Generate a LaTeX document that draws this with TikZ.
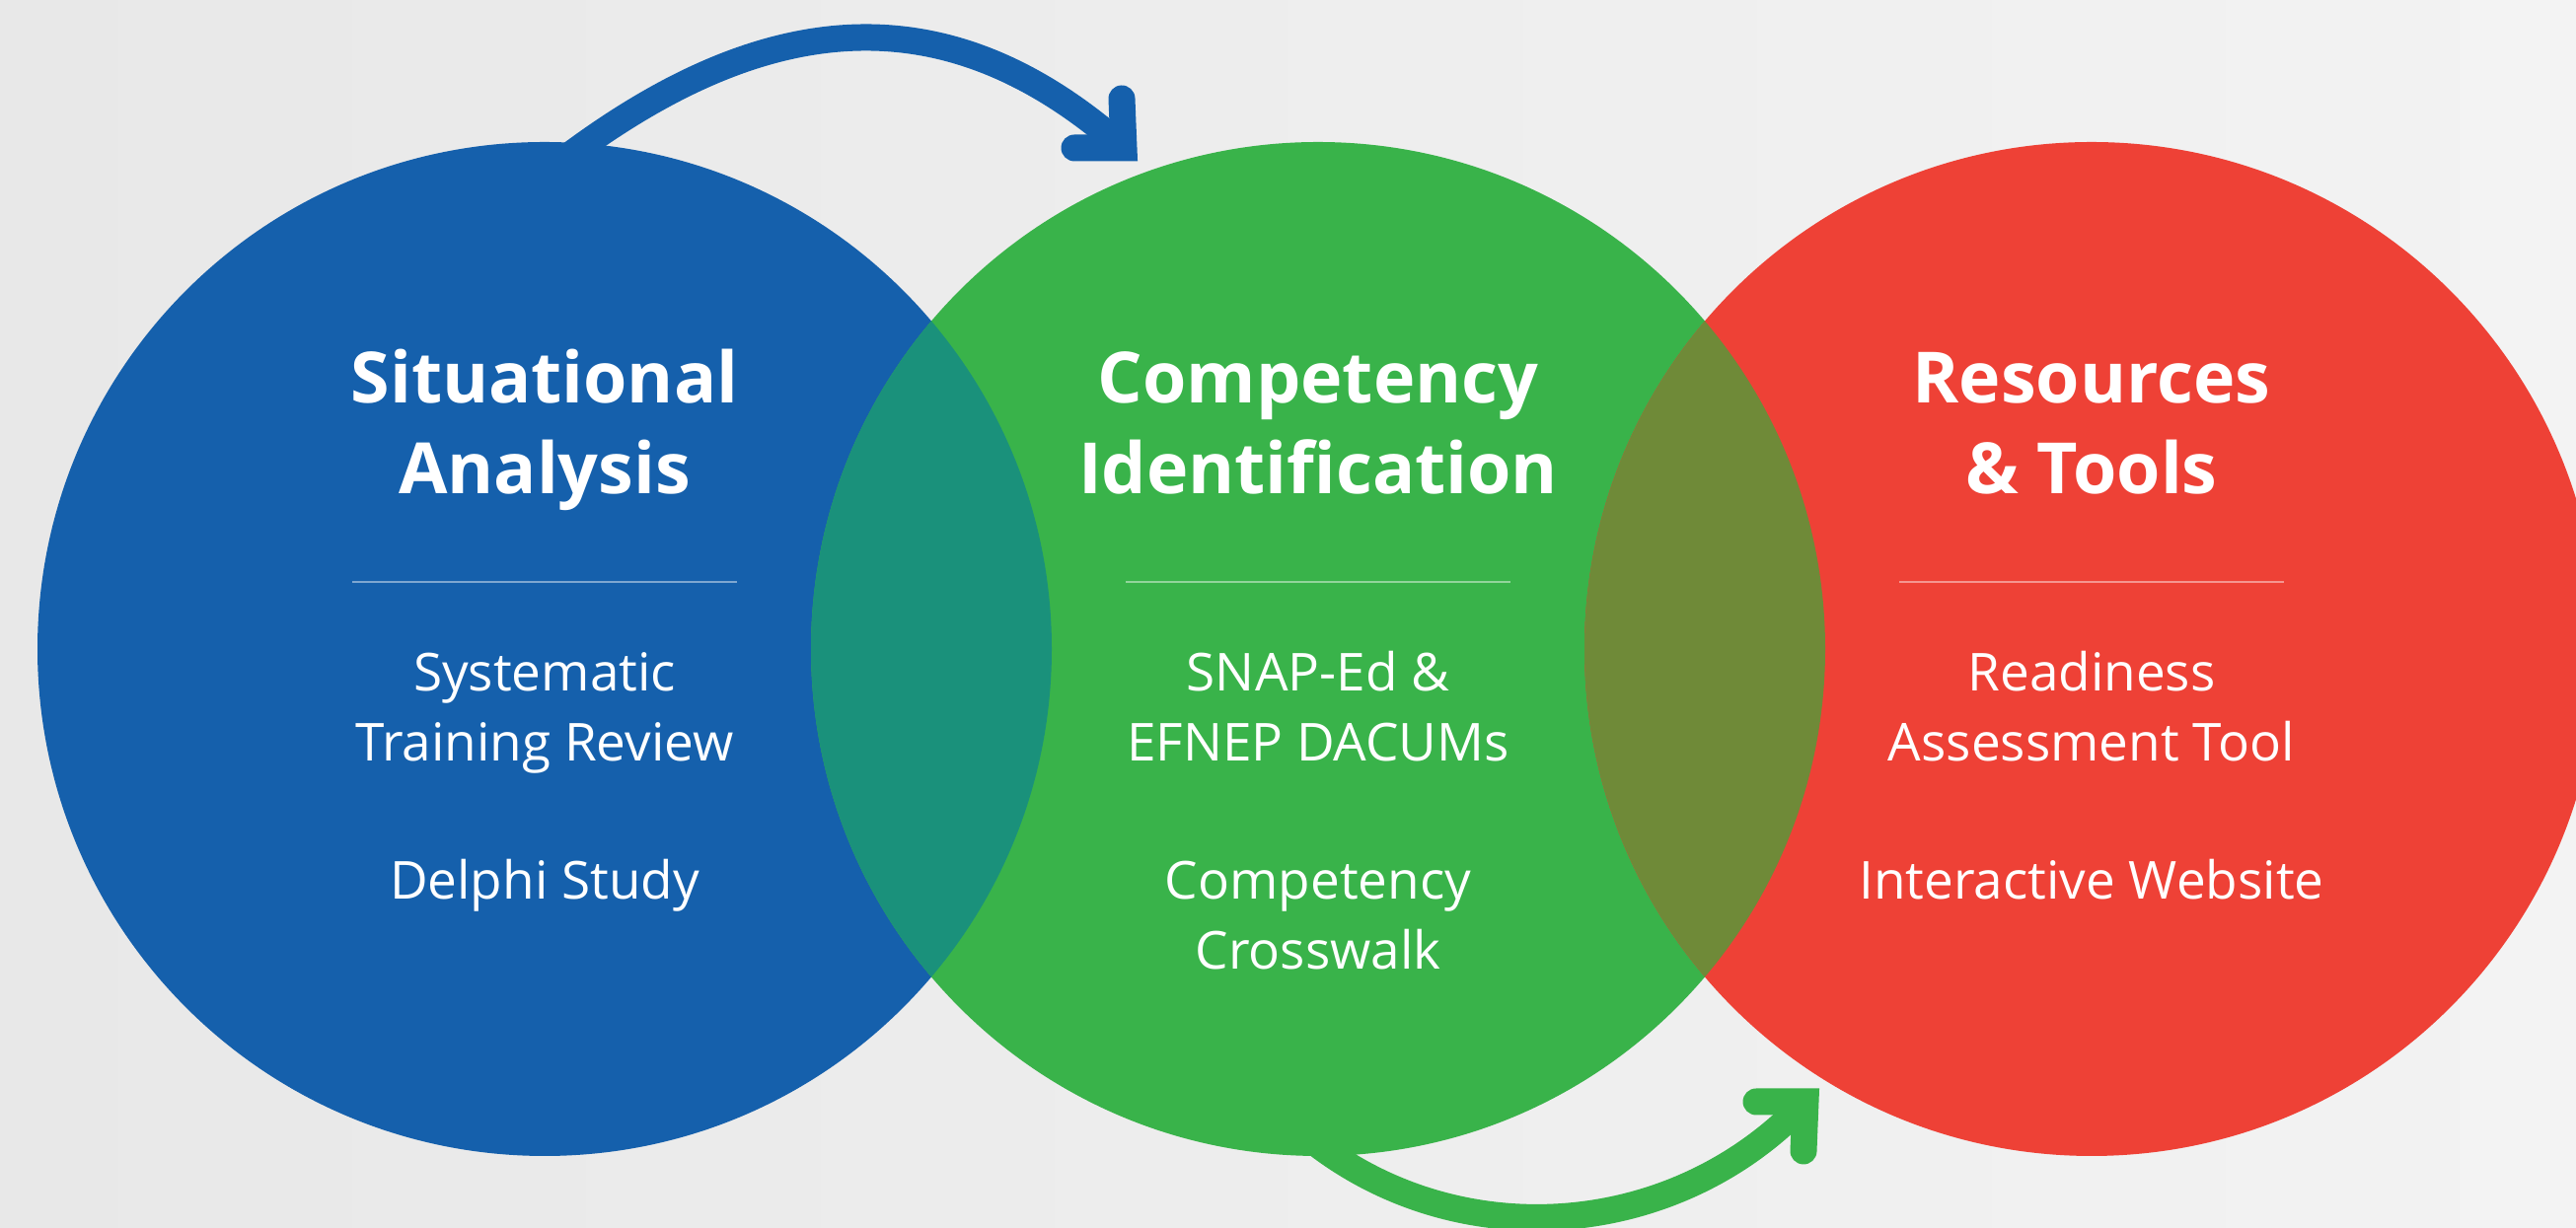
\documentclass[tikz,border=0pt]{standalone}
\usepackage{fontspec}
\setmainfont{Open Sans}
\usetikzlibrary{calc}

\pgfdeclarelayer{back}
\pgfsetlayers{back,main}

\definecolor{sablue}{HTML}{1560AC}
\definecolor{cigreen}{HTML}{39B34A}
\definecolor{rtred}{HTML}{EE4136}
\definecolor{lensteal}{HTML}{1A917B}
\definecolor{lensolive}{HTML}{6F8A38}
\definecolor{bgleft}{HTML}{E8E8E8}
\definecolor{bgright}{HTML}{F3F3F3}

\tikzset{
  disc/.style    = {circle, minimum size=10.28cm, inner sep=0pt, draw=none},
  heading/.style = {text=white, anchor=base, inner sep=0pt,
                    font=\fontsize{20.4}{26}\selectfont\bfseries},
  entry/.style   = {text=white, anchor=base, inner sep=0pt,
                    font=\fontsize{15.1}{20}\selectfont},
  divider/.style = {white, opacity=0.45, line width=0.45pt},
  shaft/.style   = {line width=0.27cm},
  barb/.style    = {line width=0.27cm, line cap=round, line join=miter}
}

\begin{document}
\begin{tikzpicture}
  \useasboundingbox (0,0) rectangle (26.11,12.45);

  %--- the three stages ---
  \node[disc, fill=sablue]  (sa) at ( 5.52,5.87) {};
  \node[disc, fill=cigreen] (ci) at (13.36,5.87) {};
  \node[disc, fill=rtred]   (rt) at (21.20,5.87) {};

  % overlaps
  \begin{scope}
    \clip (sa.center) circle[radius=5.14];
    \fill[lensteal] (ci.center) circle[radius=5.14];
  \end{scope}
  \begin{scope}
    \clip (ci.center) circle[radius=5.14];
    \fill[lensolive] (rt.center) circle[radius=5.14];
  \end{scope}

  %--- labels ---
  \node[heading] (sa-h1) at ([yshift= 2.49cm]sa.center) {Situational};
  \node[heading] (sa-h2) at ([yshift= 1.57cm]sa.center) {Analysis};
  \node[entry]   (sa-e1) at ([yshift=-0.43cm]sa.center) {Systematic};
  \node[entry]   (sa-e2) at ([yshift=-1.14cm]sa.center) {Training Review};
  \node[entry]   (sa-e3) at ([yshift=-2.54cm]sa.center) {Delphi Study};

  \node[heading] (ci-h1) at ([yshift= 2.49cm]ci.center) {Competency};
  \node[heading] (ci-h2) at ([yshift= 1.57cm]ci.center) {Identification};
  \node[entry]   (ci-e1) at ([yshift=-0.43cm]ci.center) {SNAP-Ed \&};
  \node[entry]   (ci-e2) at ([yshift=-1.14cm]ci.center) {EFNEP DACUMs};
  \node[entry]   (ci-e3) at ([yshift=-2.54cm]ci.center) {Competency};
  \node[entry]   (ci-e4) at ([yshift=-3.25cm]ci.center) {Crosswalk};

  \node[heading] (rt-h1) at ([yshift= 2.49cm]rt.center) {Resources};
  \node[heading] (rt-h2) at ([yshift= 1.57cm]rt.center) {\& Tools};
  \node[entry]   (rt-e1) at ([yshift=-0.43cm]rt.center) {Readiness};
  \node[entry]   (rt-e2) at ([yshift=-1.14cm]rt.center) {Assessment Tool};
  \node[entry]   (rt-e3) at ([yshift=-2.54cm]rt.center) {Interactive Website};

  \foreach \c in {sa,ci,rt}
    \draw[divider] ([shift={(-1.95,0.68)}]\c.center) -- ([shift={(1.95,0.68)}]\c.center);

  %--- arrows (behind the circles) ---
  \coordinate (s1) at ( 5.74,10.85);
  \coordinate (h1) at (11.39,10.95);
  \coordinate (s2) at (13.35, 0.85);
  \coordinate (h2) at (18.30, 1.28);

  \begin{pgfonlayer}{back}
    \shade[left color=bgleft, right color=bgright] (0,0) rectangle (26.11,12.45);

    \draw[shaft, sablue] (s1) .. controls (7.90,12.47) and (9.70,12.45) .. (h1);
    \draw[barb, sablue] ($(h1)+(-0.50,0)$) -- (h1) -- ($(h1)+(-0.02,0.50)$);

    \draw[shaft, cigreen] (s2) .. controls (14.85,-0.29) and (17.01,-0.10) .. (h2);
    \draw[barb, cigreen] ($(h2)+(-0.50,0)$) -- (h2) -- ($(h2)+(-0.02,-0.50)$);
  \end{pgfonlayer}
\end{tikzpicture}
\end{document}
